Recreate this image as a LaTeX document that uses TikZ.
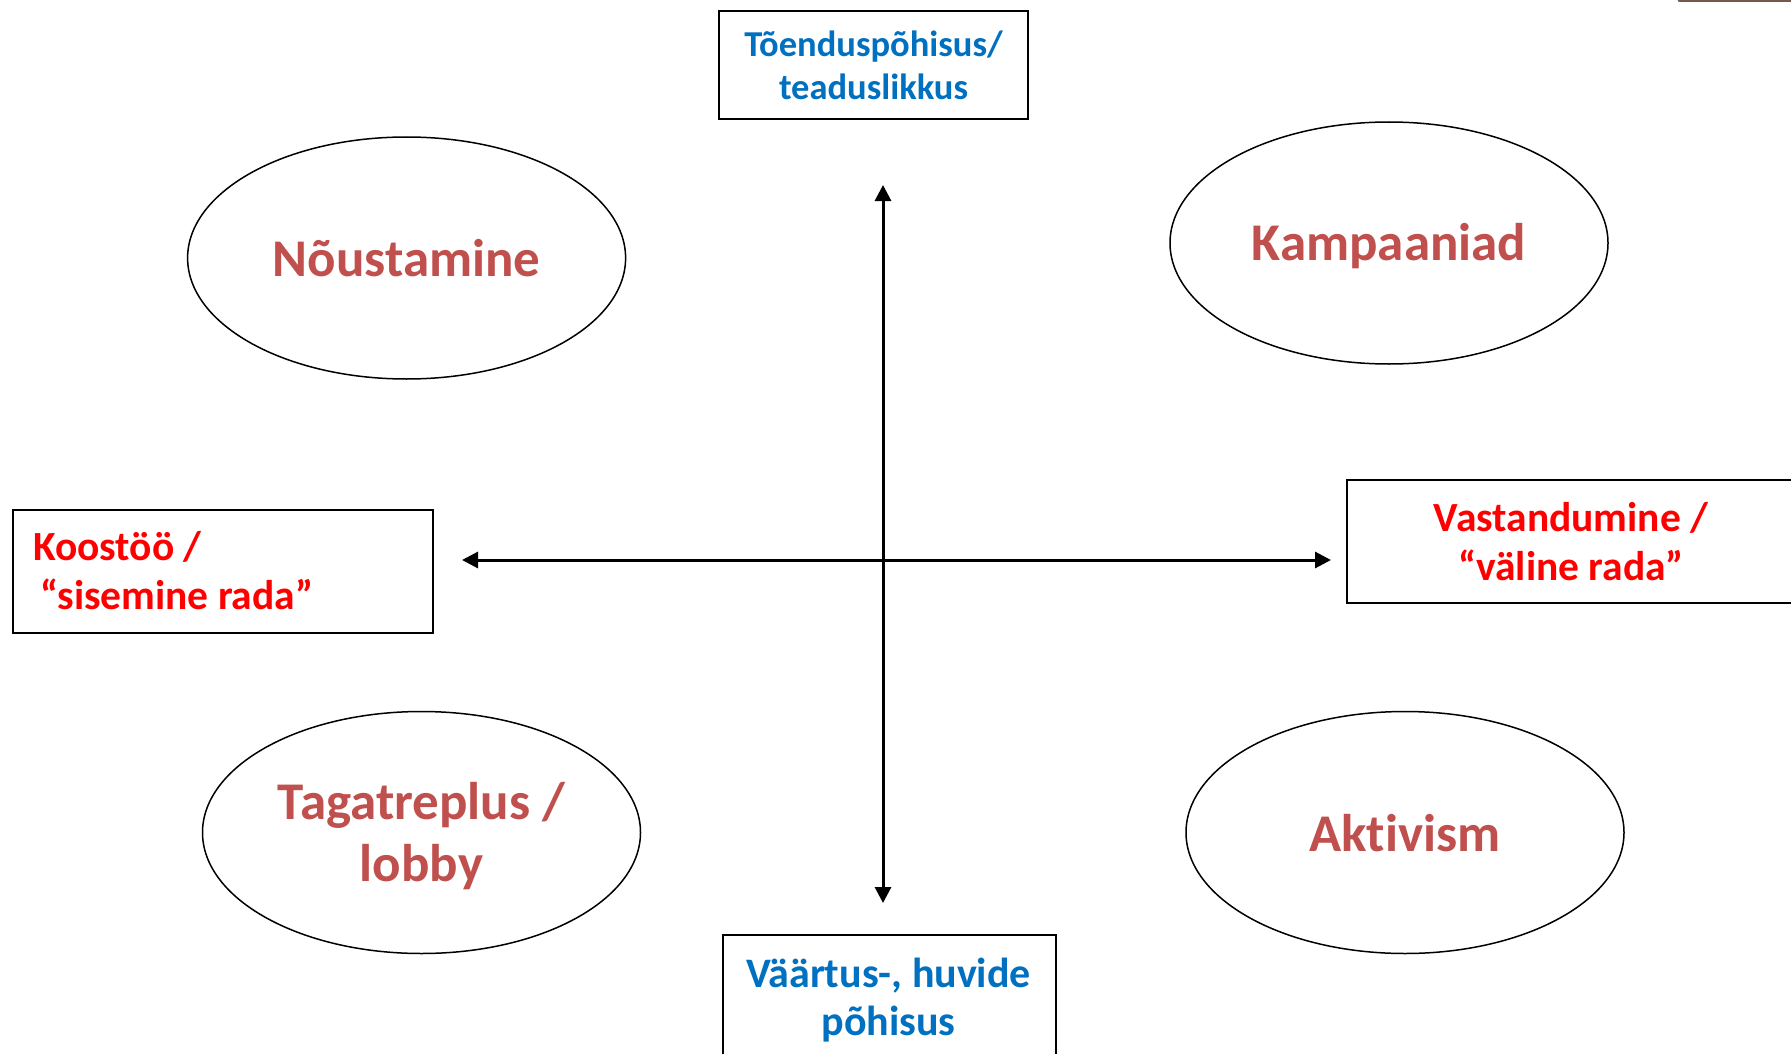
\documentclass[tikz,border=0pt]{standalone}
\usepackage{fontspec}
\setmainfont{Carlito}[Ligatures=NoCommon]
\usetikzlibrary{shapes.geometric,arrows.meta}
\definecolor{ellred}{RGB}{192,80,77}
\definecolor{bluetxt}{RGB}{0,112,192}
\definecolor{redtxt}{RGB}{255,0,0}
\definecolor{topbar}{RGB}{120,88,78}
\begin{document}
\begin{tikzpicture}[x=1pt,y=-1pt,
  oval/.style={draw=black, line width=1.5pt, ellipse, minimum width=438pt, minimum height=242pt, inner sep=0pt},
  ovaltext/.style={font=\fontsize{53}{62}\selectfont\bfseries, text=ellred, align=center, inner sep=0pt},
  frame/.style={draw=black, line width=2pt, rectangle, inner sep=0pt},
  axis/.style={line width=3pt, {Triangle[length=16pt,width=16pt]}-{Triangle[length=16pt,width=16pt]}},
  bluelabel/.style={text=bluetxt, align=center},
  redlabel/.style={text=redtxt, font=\fontsize{41.5}{49}\selectfont\bfseries},
]
\useasboundingbox (0,0) rectangle (1791,1054);
\fill[white] (0,0) rectangle (1791,1054);
\clip (0,0) rectangle (1791,1054);

% top bar fragment
\coordinate (barL) at (1680,0);
\coordinate (barR) at (1800,0);
\draw[topbar, line width=5pt, line cap=round] (barL) -- (barR);

% ellipses
\node[oval] (noust) at (406.6,258) {};
\node[ovaltext] (noustT) at (406.6,258) {Nõustamine};
\node[oval] (kamp) at (1389,243) {};
\node[ovaltext] (kampT) at (1389,246.5) {Kampaaniad};
\node[oval] (tagat) at (421.5,832.5) {};
\node[ovaltext] (tagatT) at (421.5,836.5) {Tagatreplus /\\lobby};
\node[oval] (aktiv) at (1405,832.5) {};
\node[ovaltext] (aktivT) at (1405,833.5) {Aktivism};

% boxes
\node[frame, bluelabel, minimum width=309pt, minimum height=108pt, font=\fontsize{36.5}{43}\selectfont\bfseries] (topbox) at (873.5,65) {Tõenduspõhisus/\\teaduslikkus};
\node[frame, minimum width=420pt, minimum height=123pt] (leftbox) at (223,571.5) {};
\node[redlabel, align=left, inner sep=0pt, anchor=west] (lefttext) at (33,571) {Koostöö /\\\hspace*{7pt}“sisemine rada”};
\node[frame, redlabel, minimum width=448pt, minimum height=123pt, align=center] (rightbox) at (1571,541.5) {Vastandumine /\\“väline rada”};
\node[frame, minimum width=333pt, minimum height=140pt, anchor=north west] (botbox) at (722,934) {};
\node[bluelabel, inner sep=0pt, font=\fontsize{42}{48}\selectfont\bfseries] (bottext) at (888.5,1000) {Väärtus-, huvide\\põhisus};

% axes
\coordinate (vtop) at (883,185);
\coordinate (vbot) at (883,903);
\coordinate (hleft) at (462,560);
\coordinate (hright) at (1331,560);
\draw[axis] (vbot) -- (vtop);
\draw[axis] (hleft) -- (hright);
\end{tikzpicture}
\end{document}
